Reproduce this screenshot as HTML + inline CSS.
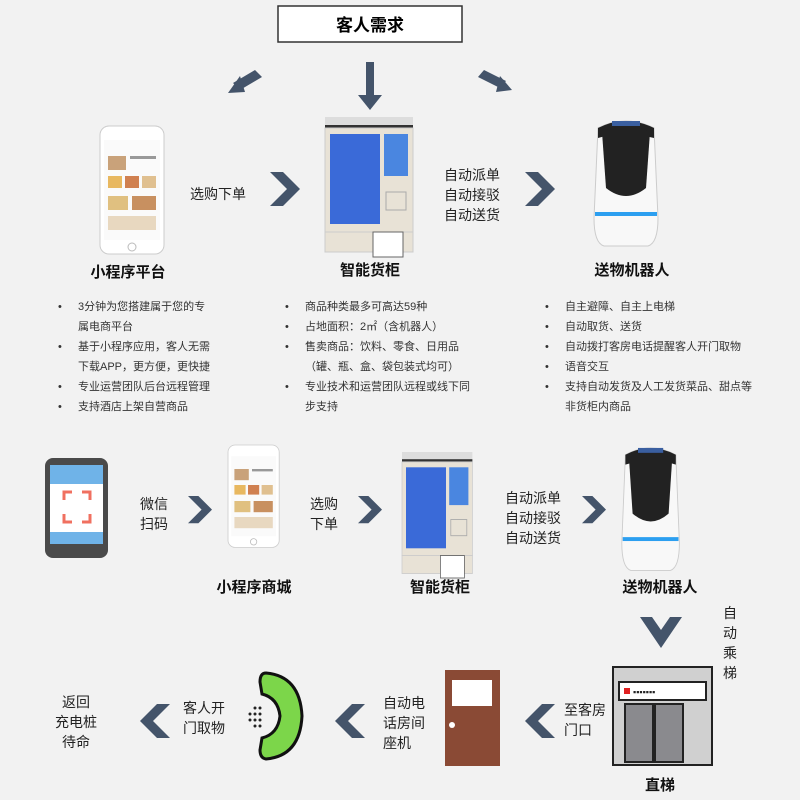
<!DOCTYPE html>
<html><head><meta charset="utf-8"><style>
body{margin:0;background:#f2f2f2;}
svg{display:block;font-family:"Liberation Sans","Noto Sans CJK SC",sans-serif;}
.t{font-size:14px;fill:#222;}
.b{font-size:15px;font-weight:bold;fill:#111;}
.s{font-size:11px;fill:#333;}
</style></head><body>
<svg width="800" height="800" viewBox="0 0 800 800">
<rect width="800" height="800" fill="#f2f2f2"/>
<defs>
<polygon id="cr" points="0,0 13,0 30,17 13,34 0,34 17,17" fill="#44546a"/>
<g id="phone">
<rect x="0" y="0" width="64" height="128" rx="9" fill="#fff" stroke="#ccc"/>
<rect x="4" y="14" width="56" height="100" fill="#fafafa"/>
<rect x="8" y="30" width="18" height="14" fill="#c9a27a"/><rect x="30" y="30" width="26" height="3" fill="#999"/>
<rect x="8" y="50" width="14" height="12" fill="#e8b860"/><rect x="25" y="50" width="14" height="12" fill="#d08050"/><rect x="42" y="50" width="14" height="12" fill="#e0c090"/>
<rect x="8" y="70" width="20" height="14" fill="#e0c080"/><rect x="32" y="70" width="24" height="14" fill="#c89060"/>
<rect x="8" y="90" width="48" height="14" fill="#e8d8c0"/>
<circle cx="32" cy="121" r="4" fill="none" stroke="#bbb"/>
</g>
<g id="cab">
<rect x="0" y="0" width="88" height="8" fill="#ddd"/><rect x="0" y="8" width="88" height="3" fill="#333"/>
<rect x="0" y="11" width="88" height="104" fill="#e8e2d6" stroke="#ccc"/>
<rect x="5" y="17" width="50" height="90" fill="#3a6ad8"/>
<rect x="59" y="17" width="24" height="42" fill="#4a86e0"/>
<rect x="61" y="75" width="20" height="18" fill="none" stroke="#aaa"/>
<rect x="0" y="115" width="88" height="20" fill="#e8e2d6" stroke="#ccc"/>
<rect x="48" y="115" width="30" height="25" fill="#fff" stroke="#666"/>
</g>
<g id="rob">
<path d="M6,10 Q34,-4 62,10 L66,100 Q66,125 56,128 L12,128 Q2,125 2,100 Z" fill="#f8f8f8" stroke="#ccc"/>
<path d="M6,10 Q34,-4 62,10 L62,20 Q34,12 6,20 Z" fill="#222"/>
<path d="M10,14 Q34,2 58,14 L54,70 Q34,86 14,70 Z" fill="#222"/>
<rect x="3" y="94" width="62" height="4" fill="#2c9ff0"/>
<rect x="20" y="3" width="28" height="5" fill="#3a5fa0"/>
</g>
</defs>

<rect x="278" y="6" width="184" height="36" fill="#fff" stroke="#333" stroke-width="1.5"/>
<text x="370" y="31" text-anchor="middle" style="font-size:17px;font-weight:bold">客人需求</text>
<g fill="#44546a">
<polygon points="255,70 262,77 240,90 233,83"/><polygon points="228,93 240,76 245,92"/>
<rect x="366" y="62" width="8" height="34"/><polygon points="358,95 382,95 370,110"/>
<polygon points="484,70 478,77 500,88 506,81"/><polygon points="512,90 500,76 496,92"/>
</g>

<use href="#phone" x="100" y="126"/>
<use href="#cab" x="325" y="117"/>
<use href="#rob" x="592" y="118"/>
<text x="128" y="277" text-anchor="middle" class="b">小程序平台</text>
<text x="370" y="275" text-anchor="middle" class="b">智能货柜</text>
<text x="632" y="275" text-anchor="middle" class="b">送物机器人</text>
<text x="190" y="199" class="t">选购下单</text>
<use href="#cr" x="270" y="172"/>
<text x="444" y="180" class="t">自动派单</text><text x="444" y="200" class="t">自动接驳</text><text x="444" y="220" class="t">自动送货</text>
<use href="#cr" x="525" y="172"/>

<g class="s">
<text x="58" y="310">•</text><text x="78" y="310">3分钟为您搭建属于您的专</text>
<text x="78" y="330">属电商平台</text>
<text x="58" y="350">•</text><text x="78" y="350">基于小程序应用，客人无需</text>
<text x="78" y="370">下载APP，更方便，更快捷</text>
<text x="58" y="390">•</text><text x="78" y="390">专业运营团队后台远程管理</text>
<text x="58" y="410">•</text><text x="78" y="410">支持酒店上架自营商品</text>
<text x="285" y="310">•</text><text x="305" y="310">商品种类最多可高达59种</text>
<text x="285" y="330">•</text><text x="305" y="330">占地面积：2㎡（含机器人）</text>
<text x="285" y="350">•</text><text x="305" y="350">售卖商品：饮料、零食、日用品</text>
<text x="305" y="370">（罐、瓶、盒、袋包装式均可）</text>
<text x="285" y="390">•</text><text x="305" y="390">专业技术和运营团队远程或线下同</text>
<text x="305" y="410">步支持</text>
<text x="545" y="310">•</text><text x="565" y="310">自主避障、自主上电梯</text>
<text x="545" y="330">•</text><text x="565" y="330">自动取货、送货</text>
<text x="545" y="350">•</text><text x="565" y="350">自动拨打客房电话提醒客人开门取物</text>
<text x="545" y="370">•</text><text x="565" y="370">语音交互</text>
<text x="545" y="390">•</text><text x="565" y="390">支持自动发货及人工发货菜品、甜点等</text>
<text x="565" y="410">非货柜内商品</text>
</g>

<!-- bottom row -->
<rect x="45" y="458" width="63" height="100" rx="8" fill="#4a4a4a"/>
<rect x="50" y="472" width="53" height="72" fill="#fff"/>
<rect x="50" y="472" width="53" height="12" fill="#6fb3e8"/><rect x="50" y="532" width="53" height="12" fill="#6fb3e8"/>
<rect x="50" y="465" width="53" height="7" fill="#6fb3e8"/>
<g stroke="#f07060" stroke-width="3" fill="none">
<path d="M64,500 v-8 h8"/><path d="M82,492 h8 v8"/><path d="M64,514 v8 h8"/><path d="M82,522 h8 v-8"/></g>
<text x="140" y="509" class="t">微信</text><text x="140" y="529" class="t">扫码</text>
<use href="#cr" x="188" y="496" transform="translate(188,496) scale(0.8) translate(-188,-496)"/>
<use href="#phone" x="228" y="445" transform="translate(228,445) scale(0.8) translate(-228,-445)"/>
<text x="310" y="509" class="t">选购</text><text x="310" y="529" class="t">下单</text>
<use href="#cr" x="358" y="496" transform="translate(358,496) scale(0.8) translate(-358,-496)"/>
<use href="#cab" x="402" y="452" transform="translate(402,452) scale(0.8,0.9) translate(-402,-452)"/>
<text x="505" y="503" class="t">自动派单</text><text x="505" y="523" class="t">自动接驳</text><text x="505" y="543" class="t">自动送货</text>
<use href="#cr" x="582" y="496" transform="translate(582,496) scale(0.8) translate(-582,-496)"/>
<use href="#rob" x="620" y="445" transform="translate(620,445) scale(0.9,0.98) translate(-620,-445)"/>
<text x="254" y="592" text-anchor="middle" class="b">小程序商城</text>
<text x="440" y="592" text-anchor="middle" class="b">智能货柜</text>
<text x="660" y="592" text-anchor="middle" class="b">送物机器人</text>

<g class="t"><text x="723" y="618">自</text><text x="723" y="638">动</text><text x="723" y="658">乘</text><text x="723" y="678">梯</text></g>
<polygon points="640,617 652,617 661,630 670,617 682,617 661,648" fill="#44546a"/>
<!-- elevator -->
<rect x="613" y="667" width="99" height="98" fill="#d0d0d0" stroke="#222" stroke-width="2"/>
<rect x="619" y="682" width="87" height="18" fill="#fff" stroke="#222" stroke-width="2"/>
<rect x="624" y="688" width="6" height="6" fill="#e02020"/>
<text x="633" y="695" style="font-size:9px;fill:#222">▪▪▪▪▪▪▪</text>
<rect x="625" y="704" width="28" height="58" fill="#8a8a8e" stroke="#222" stroke-width="2"/>
<rect x="655" y="704" width="28" height="58" fill="#8a8a8e" stroke="#222" stroke-width="2"/>
<text x="660" y="790" text-anchor="middle" class="b">直梯</text>
<text x="564" y="715" class="t">至客房</text><text x="564" y="735" class="t">门口</text>
<g transform="translate(555,704) scale(-1,1)"><use href="#cr"/></g>
<rect x="445" y="670" width="55" height="96" fill="#8a4a35"/>
<rect x="452" y="680" width="40" height="26" fill="#fff"/>
<circle cx="452" cy="725" r="3" fill="#fff"/>
<text x="383" y="708" class="t">自动电</text><text x="383" y="728" class="t">话房间</text><text x="383" y="748" class="t">座机</text>
<g transform="translate(365,704) scale(-1,1)"><use href="#cr"/></g>
<path d="M266,673 Q300,676 302,716 Q300,756 266,759 Q260,758 260,750 L262,738 Q278,734 280,716 Q278,698 262,694 L260,682 Q260,673 266,673 Z" fill="#7cd64a" stroke="#111" stroke-width="3"/>
<g fill="#222"><circle cx="255" cy="708" r="1.5"/><circle cx="260" cy="708" r="1.5"/><circle cx="255" cy="714" r="1.5"/><circle cx="260" cy="714" r="1.5"/><circle cx="250" cy="714" r="1.5"/><circle cx="255" cy="720" r="1.5"/><circle cx="260" cy="720" r="1.5"/><circle cx="250" cy="720" r="1.5"/><circle cx="255" cy="726" r="1.5"/><circle cx="260" cy="726" r="1.5"/></g>
<text x="183" y="713" class="t">客人开</text><text x="183" y="733" class="t">门取物</text>
<g transform="translate(170,704) scale(-1,1)"><use href="#cr"/></g>
<text x="62" y="707" class="t">返回</text><text x="55" y="727" class="t">充电桩</text><text x="62" y="747" class="t">待命</text>
</svg>
</body></html>
